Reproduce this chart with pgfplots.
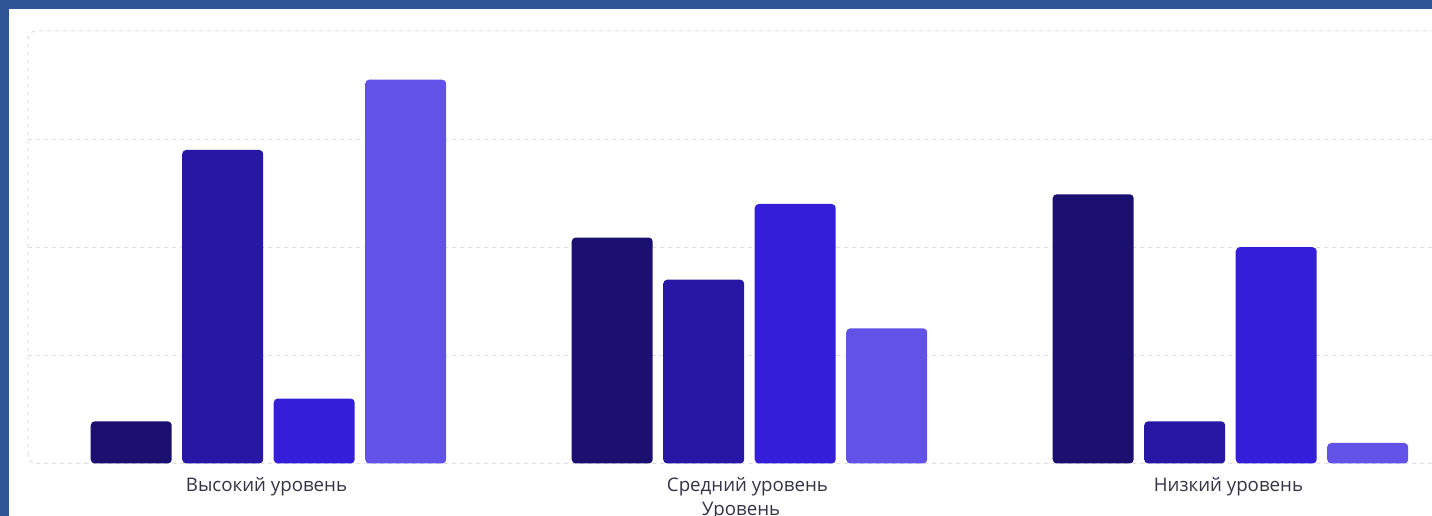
\documentclass[border=0pt]{standalone}
\usepackage{fontspec}
\setmainfont{Open Sans}
\usepackage{pgfplots}
\pgfplotsset{compat=1.18}

\definecolor{frameblue}{RGB}{47,85,151}
\definecolor{gridc}{RGB}{222,222,226}
\definecolor{labelc}{RGB}{52,52,70}
\definecolor{barA}{RGB}{27,16,112}
\definecolor{barB}{RGB}{40,22,165}
\definecolor{barC}{RGB}{52,30,217}
\definecolor{barD}{RGB}{99,82,231}

\begin{document}
\begin{tikzpicture}
\useasboundingbox (0,0) rectangle (1432pt,516pt);
\clip (0,0) rectangle (1432pt,516pt);
\fill[frameblue] (0,0) rectangle (1432pt,516pt);
\fill[white] (8.7pt,0) rectangle (1432pt,507.3pt);
% dashed rounded frame of the plot area (runs past the right edge)
\draw[gridc, line width=1pt, dash pattern=on 4pt off 4pt, rounded corners=8pt]
  (28pt,52.5pt) rectangle (1471pt,485pt);
\begin{axis}[
    at={(28pt,52.5pt)}, anchor=south west,
    scale only axis,
    width=1443pt, height=432.5pt,
    xmin=-0.5, xmax=2.5,
    ymin=0, ymax=4,
    ybar=10.5pt, bar width=81pt,
    xtick={0,1,2},
    xticklabels={Высокий уровень, Средний уровень, Низкий уровень},
    ytick={1,2,3},
    yticklabels={,,},
    major tick length=0pt,
    ymajorgrids,
    grid style={gridc, line width=1pt, dash pattern=on 4pt off 4pt},
    axis line style={draw=none},
    clip=false,
    xticklabel style={font=\fontsize{18.7}{22}\selectfont, text=labelc, yshift=-10pt, xshift=-2pt},
    xlabel={Уровень},
    xlabel style={font=\fontsize{18.7}{22}\selectfont, text=labelc,
                  at={(axis description cs:0.5,0)}, anchor=north,
                  yshift=-35pt, xshift=-8.5pt},
  ]
  \addplot[fill=barA, draw=none, rounded corners=4pt] coordinates {(0,0.39) (1,2.09) (2,2.49)};
  \addplot[fill=barB, draw=none, rounded corners=4pt] coordinates {(0,2.90) (1,1.70) (2,0.39)};
  \addplot[fill=barC, draw=none, rounded corners=4pt] coordinates {(0,0.60) (1,2.40) (2,2.00)};
  \addplot[fill=barD, draw=none, rounded corners=4pt] coordinates {(0,3.55) (1,1.25) (2,0.19)};
\end{axis}
\end{tikzpicture}
\end{document}
